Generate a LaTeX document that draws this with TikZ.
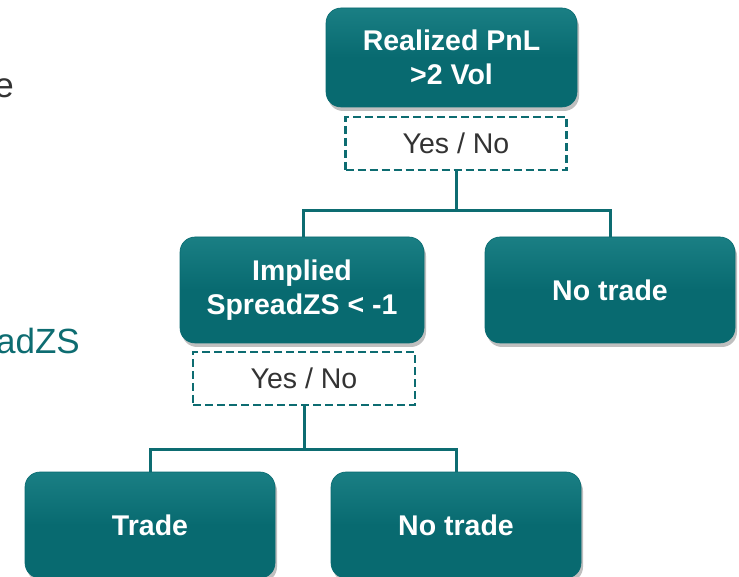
\documentclass[tikz,border=0pt]{standalone}
\usepackage{fontspec}
\setmainfont{Liberation Sans}
\usetikzlibrary{positioning,calc,shadows}
\definecolor{ink}{HTML}{333333}
\definecolor{tealbox}{HTML}{086A70}
\definecolor{tealhi}{HTML}{1A7F84}
\definecolor{tealline}{HTML}{0D6C71}
\tikzset{
  dbox/.style={rounded corners=15pt,top color=tealhi,bottom color=tealbox,middle color=tealbox,
    draw=tealbox,line width=.6pt,align=center,text=white,font=\fontsize{28.5}{34}\selectfont\bfseries,
    drop shadow={opacity=.5,shadow xshift=2pt,shadow yshift=-4pt},inner sep=0pt},
  ans/.style={draw=tealline,dashed,dash pattern=on 8pt off 4pt,line width=2.2pt,fill=white,
    align=center,text=ink,font=\fontsize{28.5}{32}\selectfont,inner sep=0pt},
  link/.style={draw=tealline,line width=3pt},
  side/.style={font=\fontsize{35}{40}\selectfont,anchor=base east,inner sep=0pt},
}
\begin{document}
\begin{tikzpicture}[x=1pt,y=1pt]
  \useasboundingbox (0,0) rectangle (739,576);
  \node[side,text=ink] (lt) at (14,478) {e};
  \node[side,text=tealline] (lb) at (80,222) {adZS};

  \node[dbox,minimum width=251pt,minimum height=99pt] (root) at (451.5,518.5) {Realized PnL\\>2 Vol};
  \node[ans,minimum width=221pt,minimum height=53pt] (q1) at (456,432.5) {Yes / No};
  \node[dbox,minimum width=244pt,minimum height=106pt] (mid) at (302,286) {Implied\\SpreadZS < -1};
  \node[dbox,minimum width=250pt,minimum height=106pt] (nt1) at (610,286) {No trade};
  \node[ans,minimum width=222pt,minimum height=53pt] (q2) at (304,197.5) {Yes / No};
  \node[dbox,minimum width=250pt,minimum height=106pt] (trade) at (150,51) {Trade};
  \node[dbox,minimum width=250pt,minimum height=106pt] (nt2) at (456,51) {No trade};

  \draw[link] (q1.south) -- ++(0,-39) coordinate (j1);
  \draw[link] (j1) -| ([xshift=1pt]mid.north);
  \draw[link] (j1) -| (nt1.north);
  \draw[link] (q2.south) -- ++(0,-43) coordinate (j2);
  \draw[link] (j2) -| (trade.north);
  \draw[link] (j2) -| (nt2.north);
\end{tikzpicture}
\end{document}
